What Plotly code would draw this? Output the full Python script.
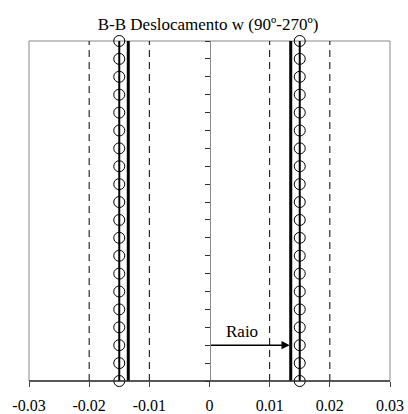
import plotly.graph_objects as go

# Data
levels = [0, 1, 2, 3, 4, 5, 6, 7, 8, 9, 10, 11, 12, 13, 14, 15, 16, 17, 18, 19]
w_left = [-0.015, -0.015, -0.015, -0.015, -0.015, -0.015, -0.015, -0.015, -0.015, -0.015,
          -0.015, -0.015, -0.015, -0.015, -0.015, -0.015, -0.015, -0.015, -0.015, -0.015]
w_right = [0.015, 0.015, 0.015, 0.015, 0.015, 0.015, 0.015, 0.015, 0.015, 0.015,
           0.015, 0.015, 0.015, 0.015, 0.015, 0.015, 0.015, 0.015, 0.015, 0.015]
radius = 0.0135
guide_x = [-0.02, -0.01, 0.01, 0.02]
x_ticks = [-0.03, -0.02, -0.01, 0, 0.01, 0.02, 0.03]
x_tick_labels = ["-0.03", "-0.02", "-0.01", "0", "0.01", "0.02", "0.03"]
arrow_level = 2
raio_label_pos = (0.0054, 2.75)
title = "B-B Deslocamento w (90º-270º)"

FONT = "Liberation Serif, Times New Roman, serif"
y_lo, y_hi = levels[0], levels[-1]

fig = go.Figure()

for gx in guide_x:
    fig.add_trace(go.Scatter(x=[gx, gx], y=[y_lo, y_hi], mode="lines",
                             line=dict(color="black", width=1, dash="7px,5px"),
                             showlegend=False, hoverinfo="skip"))

for rx in (-radius, radius):
    fig.add_trace(go.Scatter(x=[rx, rx], y=[y_lo, y_hi], mode="lines",
                             line=dict(color="black", width=3),
                             showlegend=False, hoverinfo="skip"))

for wx in (w_left, w_right):
    fig.add_trace(go.Scatter(x=wx, y=levels, mode="lines+markers",
                             line=dict(color="black", width=2),
                             marker=dict(symbol="circle-open", size=11,
                                         color="black", line=dict(width=1)),
                             cliponaxis=False, showlegend=False))

fig.add_annotation(x=radius, y=arrow_level, ax=0, ay=arrow_level,
                   xref="x", yref="y", axref="x", ayref="y",
                   text="", showarrow=True, arrowhead=2, arrowsize=1.1,
                   arrowwidth=1.5, arrowcolor="black", standoff=1)
fig.add_annotation(x=raio_label_pos[0], y=raio_label_pos[1], text="Raio",
                   showarrow=False, font=dict(family=FONT, size=17, color="black"))

# plot frame (top/left/right thin grey) and bottom axis line (darker)
fig.add_shape(type="rect", xref="x domain", yref="y domain", x0=0, x1=1, y0=0, y1=1,
              line=dict(color="#888888", width=1), layer="below")
fig.add_shape(type="line", xref="x domain", yref="y domain", x0=0, x1=1, y0=0, y1=0,
              line=dict(color="#333333", width=1.5), layer="above")

fig.update_layout(
    template="none",
    width=408, height=414,
    margin=dict(l=29, r=18, t=41, b=33, autoexpand=False),
    paper_bgcolor="white", plot_bgcolor="white",
    title=dict(text=title, x=0.51, xanchor="center", y=1 - 24 / 414, yanchor="middle",
               font=dict(family=FONT, size=17, color="black")),
    font=dict(family=FONT, size=17, color="black"),
    xaxis=dict(range=[-0.03, 0.03], tickvals=x_ticks, ticktext=x_tick_labels,
               ticks="outside", ticklen=5, tickcolor="#444444", tickwidth=1,
               showline=False, showgrid=False, zeroline=False,
               ticklabelstandoff=5, automargin=False,
               tickfont=dict(family=FONT, size=16, color="black")),
    yaxis=dict(range=[y_lo, y_hi], anchor="free", position=0.5, dtick=1,
               ticks="outside", ticklen=5, tickcolor="#333333", tickwidth=1,
               showline=True, linecolor="#888888", linewidth=1, automargin=False,
               showticklabels=False, showgrid=False, zeroline=False),
)

fig.write_html("out.html", config={"displayModeBar": False},
               post_script="document.body.style.margin='0';")
